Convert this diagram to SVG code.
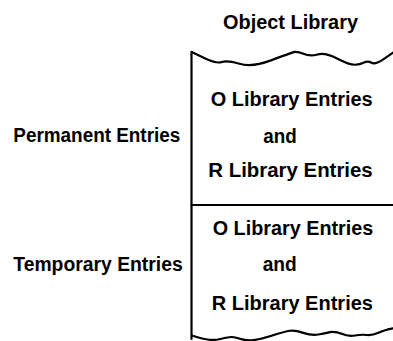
<svg xmlns="http://www.w3.org/2000/svg" width="393" height="341" viewBox="0 0 393 341">
<style>
text{font-family:"Liberation Sans",Arial,sans-serif;font-weight:bold;font-size:20px;fill:#000}
.ln{fill:none;stroke:#000;stroke-width:2.2;stroke-linejoin:round;stroke-linecap:round}
</style>
<rect width="393" height="341" fill="#fff"/>
<g id="title"><text x="223" y="28.5" textLength="135" lengthAdjust="spacingAndGlyphs">Object Library</text></g>
<g id="outline">
<path class="ln" d="M191.5,52 L191.5,339"/>
<path class="ln" d="M191.7,52 L204.2,58 Q216.7,64 221.85,62 Q227,60 239.5,63.75 Q252,67.5 271,60.4 Q290,53.3 293.5,52.15 Q297,51 303.5,53.85 Q310,56.7 317.5,54.5 Q325,52.3 337.5,58.65 Q350,65 355,64.75 Q360,64.5 364,62.5 Q368,60.5 371.5,62.75 Q375,65 384,58.85 L393,52.7"/>
<path class="ln" d="M191.5,205 L393,205"/>
<path class="ln" d="M192,335.5 L197.5,337.25 Q203,339 209,339.75 Q215,340.5 221.5,338.75 Q228,337 231.5,337 Q235,337 240,338.75 Q245,340.5 251.5,340.25 Q258,340 271.5,335.75 Q285,331.5 290,330.75 Q295,330 303.35,332.85 Q311.7,335.7 318.35,334.5 Q325,333.3 330,332.15 Q335,331 341.65,333.85 Q348.3,336.7 355,335.5 Q361.7,334.3 366.7,335 Q371.7,335.7 378.35,332.85 Q385,330 389,329.15 L393,328.3"/>
</g>
<g id="permanent">
<text x="13.3" y="141.7" textLength="167" lengthAdjust="spacingAndGlyphs">Permanent Entries</text>
<text x="210.7" y="105.7" textLength="162" lengthAdjust="spacingAndGlyphs">O Library Entries</text>
<text x="263.3" y="143.3" textLength="33.4" lengthAdjust="spacingAndGlyphs">and</text>
<text x="208.3" y="177.3" textLength="164.4" lengthAdjust="spacingAndGlyphs">R Library Entries</text>
</g>
<g id="temporary">
<text x="13.3" y="270.7" textLength="169.4" lengthAdjust="spacingAndGlyphs">Temporary Entries</text>
<text x="212.7" y="235" textLength="160.6" lengthAdjust="spacingAndGlyphs">O Library Entries</text>
<text x="262.7" y="270.7" textLength="34" lengthAdjust="spacingAndGlyphs">and</text>
<text x="211.7" y="310" textLength="161.3" lengthAdjust="spacingAndGlyphs">R Library Entries</text>
</g>
</svg>
